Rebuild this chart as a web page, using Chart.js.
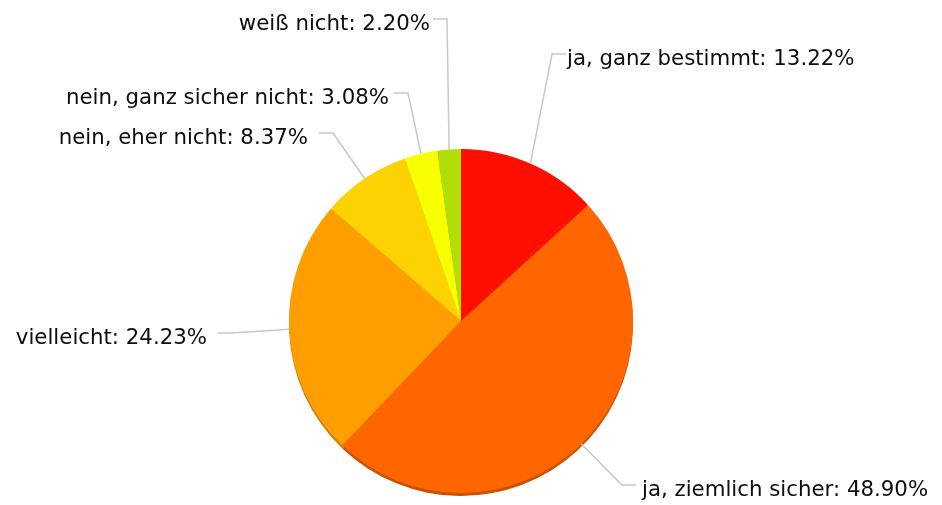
<!DOCTYPE html>
<html lang="de">
<head>
  <meta charset="UTF-8" />
  <title>Umfrage Pie</title>
  <script src="https://cdn.jsdelivr.net/npm/chart.js"></script>
  <style>
    html, body { margin: 0; padding: 0; background: #fff; }
    canvas { display: block; }
  </style>
</head>
<body>
  <canvas id="pie" width="942" height="505"></canvas>

  <script>
    const labels = ['ja, ganz bestimmt', 'ja, ziemlich sicher', 'vielleicht', 'nein, eher nicht', 'nein, ganz sicher nicht', 'weiß nicht'];
    const values = [13.22, 48.90, 24.23, 8.37, 3.08, 2.20];
    const colors = ['#FF0F00', '#FF6600', '#FF9E01', '#FCD202', '#F8FF01', '#B0DE09'];

    // where each callout label sits (elbow x, line y, text gap)
    const callouts = [
      { ex: 552, ey: 54, gap: 1 },
      { ex: 622, ey: 485, gap: 6 },
      { ex: 232, ey: 333, gap: 11 },
      { ex: 333, ey: 133, gap: 11 },
      { ex: 408, ey: 93, gap: 5 },
      { ex: 447, ey: 19, gap: 3 }
    ];

    function darker(hex, f) {
      const n = parseInt(hex.slice(1), 16);
      const r = Math.round(((n >> 16) & 255) * f);
      const g = Math.round(((n >> 8) & 255) * f);
      const b = Math.round((n & 255) * f);
      return `rgb(${r},${g},${b})`;
    }

    // thin darker rim under the pie
    const rimPlugin = {
      id: 'rim',
      beforeDatasetsDraw(chart) {
        const ctx = chart.ctx;
        const meta = chart.getDatasetMeta(0);
        ctx.save();
        meta.data.forEach((arc, i) => {
          ctx.beginPath();
          ctx.moveTo(arc.x, arc.y + 3);
          ctx.arc(arc.x, arc.y + 3, arc.outerRadius, arc.startAngle, arc.endAngle);
          ctx.closePath();
          ctx.fillStyle = darker(colors[i], 0.8);
          ctx.fill();
        });
        ctx.restore();
      }
    };

    const calloutPlugin = {
      id: 'callouts',
      afterDatasetsDraw(chart) {
        const ctx = chart.ctx;
        const meta = chart.getDatasetMeta(0);
        ctx.save();
        ctx.font = '21.3px "DejaVu Sans", Verdana, sans-serif';
        ctx.textBaseline = 'alphabetic';
        meta.data.forEach((arc, i) => {
          const mid = (arc.startAngle + arc.endAngle) / 2;
          const sx = arc.x + Math.cos(mid) * arc.outerRadius;
          const sy = arc.y + Math.sin(mid) * arc.outerRadius;
          const c = callouts[i];
          const right = Math.cos(mid) >= 0;
          const endX = right ? c.ex + 14 : c.ex - 14;

          ctx.strokeStyle = '#c8c8c8';
          ctx.lineWidth = 1.5;
          ctx.beginPath();
          ctx.moveTo(sx, sy);
          ctx.lineTo(c.ex, c.ey);
          ctx.lineTo(endX, c.ey);
          ctx.stroke();

          ctx.fillStyle = '#0d0d0d';
          ctx.textAlign = right ? 'left' : 'right';
          const txt = labels[i] + ': ' + values[i].toFixed(2) + '%';
          ctx.fillText(txt, right ? endX + c.gap : endX - c.gap, c.ey + 11);
        });
        ctx.restore();
      }
    };

    new Chart(document.getElementById('pie').getContext('2d'), {
      type: 'pie',
      data: {
        labels: labels,
        datasets: [{
          data: values,
          backgroundColor: colors,
          borderWidth: 0
        }]
      },
      options: {
        responsive: false,
        animation: false,
        layout: { padding: { top: 149, bottom: 12, left: 289, right: 309 } },
        plugins: {
          legend: { display: false },
          tooltip: { enabled: false }
        }
      },
      plugins: [rimPlugin, calloutPlugin]
    });
  </script>
</body>
</html>
